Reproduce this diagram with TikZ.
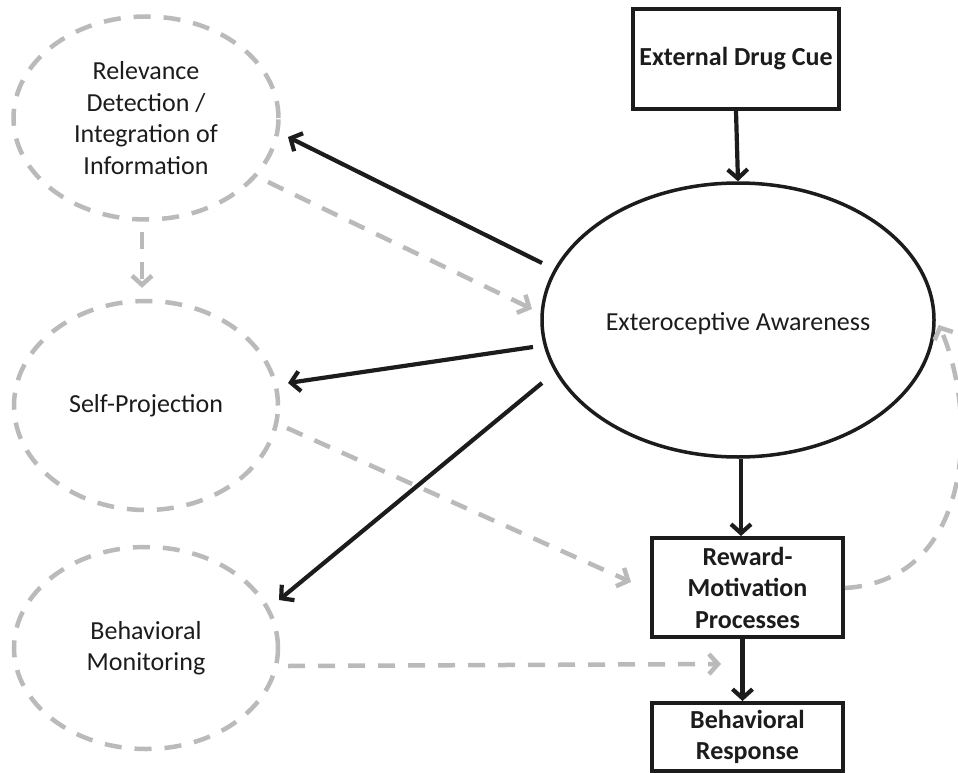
\documentclass[tikz,border=0pt]{standalone}
\usepackage{fontspec}
\setmainfont{Carlito}
\usetikzlibrary{arrows.meta,shapes.geometric,calc}
\definecolor{ink}{HTML}{1C1C1C}
\definecolor{soft}{HTML}{BABABA}
\begin{document}
\begin{tikzpicture}[x=1pt,y=-1pt,
  txt/.style={font=\fontsize{26}{31.5}\selectfont, align=center, text=ink, inner sep=0pt},
  box/.style={txt, draw=ink, line width=4pt, rectangle, font=\fontsize{26}{31.5}\selectfont\bfseries},
  solidell/.style={ellipse, draw=ink, line width=3.5pt, inner sep=0pt},
  dashell/.style={txt, ellipse, draw=soft, line width=4.5pt, dash pattern=on 17pt off 13pt},
  blk/.style={draw=ink, line width=4.2pt, -{Straight Barb[length=9pt,width=20pt]}},
  gry/.style={draw=soft, line width=4.5pt, dash pattern=on 17pt off 13pt, -{Straight Barb[length=9pt,width=20pt]}},
]
\fill[white] (0,0) rectangle (958,773);
\useasboundingbox (0,0) rectangle (958,773);

% right column
\node[box, minimum width=206pt, minimum height=100pt] (cue) at (736,59) {External Drug Cue};
\node[solidell, minimum width=392pt, minimum height=274pt] (ext) at (738,320) {};
\node[txt] (extlabel) at (738,324) {Exteroceptive Awareness};
\node[box, minimum width=191pt, minimum height=99pt] (rew) at (747.5,587.5) {Reward-\\Motivation\\Processes};
\node[box, minimum width=191pt, minimum height=68pt] (resp) at (747.5,737) {Behavioral\\Response};

% left column
\node[dashell, minimum width=265pt, minimum height=203pt] (rel) at (146,118) {Relevance\\Detection /\\Integration of\\Information};
\node[dashell, minimum width=264pt, minimum height=209pt] (self) at (146,405.5) {Self-Projection};
\node[dashell, minimum width=264pt, minimum height=202pt] (mon) at (146,648) {Behavioral\\Monitoring};

% black connectors
\draw[blk] (cue.south) -- (ext.north);
\draw[blk] ($(ext.south)+(3,0)$) -- ($(rew.north)+(-6.5,0)$);
\draw[blk] ($(rew.south)+(-5,0)$) -- ($(resp.north)+(-5,0)$);
\draw[blk] ($(ext.center)+(-196,-57)$) -- ($(rel.center)+(142,19)$);
\draw[blk] ($(ext.center)+(-205,27)$) -- ($(self.center)+(142,-22.5)$);
\draw[blk] ($(ext.center)+(-196,63)$) -- ($(mon.center)+(133,-48)$);

% grey dashed connectors
\draw[gry] ($(rel.center)+(122,64)$) -- ($(ext.center)+(-206,-11)$);
\draw[gry] ($(rel.south)+(-4,10)$) -- ($(self.north)+(-4,-11)$);
\draw[gry] ($(self.center)+(141,22.5)$) -- ($(rew.west)+(-19,-5.5)$);
\draw[gry] ($(mon.center)+(142,18)$) -- ($(resp.north west)+(71,-37)$);
\draw[gry] ($(rew.east)+(0,0.5)$) .. controls ($(rew.east)+(132,-7.5)$) and ($(ext.east)+(41,90)$) .. ($(ext.east)+(3,5)$);
\end{tikzpicture}
\end{document}
